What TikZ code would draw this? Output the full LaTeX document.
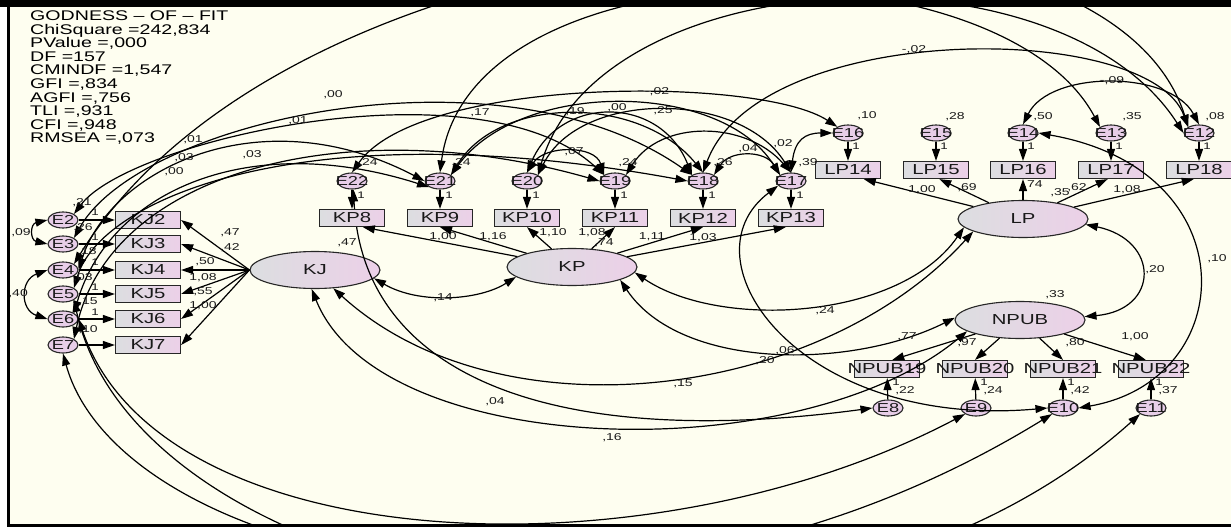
\documentclass[tikz,border=0pt]{standalone}
\usepackage{fontspec}
\newfontfamily\amos[FakeStretch=1.4]{Liberation Sans}
\usetikzlibrary{arrows.meta,shapes.geometric}
\definecolor{paper}{RGB}{254,254,240}
\definecolor{shadeL}{RGB}{220,222,224}
\definecolor{shadeR}{RGB}{236,208,232}
\definecolor{errfill}{RGB}{232,206,232}
\newcommand\olab[1]{\makebox[0pt]{#1}}
\begin{document}
\begin{tikzpicture}[x=1pt,y=-1pt,
  every node/.style={font=\amos, text=black!90},
  obs/.style={draw=black!85, line width=1.2pt, minimum width=65pt, minimum height=17pt,
    inner sep=0pt, left color=shadeL, right color=shadeR, font=\amos\fontsize{14.5}{14.5}\selectfont},
  lat/.style={ellipse, draw=black!85, line width=1.1pt, minimum width=130pt, minimum height=37pt,
    inner sep=0pt, left color=shadeL, right color=shadeR, font=\amos\fontsize{14.5}{14.5}\selectfont},
  err/.style={ellipse, draw=black!85, line width=1.1pt, fill=errfill, minimum width=30pt,
    minimum height=16pt, inner sep=0pt, font=\amos\fontsize{13}{13}\selectfont},
  reg/.style={-{Triangle[length=12pt,width=8pt]}, line width=1.2pt},
  cov/.style={{Triangle[length=12pt,width=8pt]}-{Triangle[length=12pt,width=8pt]}, line width=1.2pt},
  est/.style={font=\amos\fontsize{10}{10}\selectfont, inner sep=0pt},
  one/.style={font=\amos\fontsize{9.5}{9.5}\selectfont, inner sep=0pt},
]
\useasboundingbox (0,0) rectangle (1231,527);
\fill[white] (0,0) rectangle (1231,527);
\fill[paper] (10,7) rectangle (1231,523.5);

\begin{scope}
\clip (10,7) rectangle (1231,523.5);

% fit statistics
\node[anchor=north west, align=left, inner sep=0pt, text=black,
      font=\amos\fontsize{14}{13.6}\selectfont] (fit) at (30,10.5)
 {GODNESS – OF – FIT\\ChiSquare =242,834\\PValue =,000\\DF =157\\CMINDF =1,547\\GFI =,834\\AGFI =,756\\TLI =,931\\CFI =,948\\RMSEA =,073};

% latent variables
\node[lat] (KJ) at (315,270) {\olab{KJ}};
\node[lat] (KP) at (572,267) {\olab{KP}};
\node[lat] (LP) at (1023,219) {\olab{LP}};
\node[lat] (NPUB) at (1020,320) {\olab{NPUB}};

% error terms
\foreach \n/\y in {2/220,3/244,4/270,5/294,6/319,7/345}
  \node[err] (E\n) at (63,\y) {\olab{E\n}};
\foreach \n/\x in {22/352,21/440,20/527,19/615,18/703,17/791}
  \node[err] (E\n) at (\x,181) {\olab{E\n}};
\foreach \n/\x in {16/848,15/936,14/1023,13/1111,12/1199}
  \node[err] (E\n) at (\x,133) {\olab{E\n}};
\foreach \n/\x in {8/888,9/976,10/1063,11/1151}
  \node[err] (E\n) at (\x,408) {\olab{E\n}};

% covariance running behind the KP8 box
\draw[cov] (E22.-80) .. controls (362,380) and (560,450) .. (E8.west);

% observed indicators
\foreach \n/\y in {2/220,3/244,4/270,5/294,6/319,7/345}
  \node[obs] (KJ\n) at (148,\y) {\olab{KJ\n}};
\foreach \n/\x in {8/352,9/440,10/527,11/615,12/703,13/791}
  \node[obs] (KP\n) at (\x,218) {\olab{KP\n}};
\foreach \n/\x in {14/848,15/936,16/1023,17/1111,18/1199}
  \node[obs] (LP\n) at (\x,170) {\olab{LP\n}};
\foreach \n/\x in {19/887,20/975,21/1063,22/1151}
  \node[obs] (NPUB\n) at (\x,369) {\olab{NPUB\n}};

% loadings
\foreach \n in {2,...,7} \draw[reg] (KJ.west) -- (KJ\n.east);
\foreach \n in {2,...,7} \draw[reg] (E\n) -- (KJ\n);
\draw[reg] (KP) -- (KP8.-40);
\draw[reg] (KP) -- (KP9.south);
\draw[reg] (KP) -- (KP10.south);
\draw[reg] (KP) -- (KP11.south);
\draw[reg] (KP) -- (KP12.south);
\draw[reg] (KP) -- (KP13.-120);
\foreach \e/\b in {22/8,21/9,20/10,19/11,18/12,17/13} \draw[reg] (E\e) -- (KP\b);
\draw[reg] (LP) -- (LP14.-30);
\draw[reg] (LP) -- (LP15.-70);
\draw[reg] (LP) -- (LP16.south);
\draw[reg] (LP) -- (LP17.-110);
\draw[reg] (LP) -- (LP18.-120);
\foreach \e/\b in {16/14,15/15,14/16,13/17,12/18} \draw[reg] (E\e) -- (LP\b);
\draw[reg] (NPUB) -- (NPUB19.60);
\draw[reg] (NPUB) -- (NPUB20.north);
\draw[reg] (NPUB) -- (NPUB21.north);
\draw[reg] (NPUB) -- (NPUB22.120);
\foreach \e/\b in {8/19,9/20,10/21,11/22} \draw[reg] (E\e) -- (NPUB\b);

% latent covariances
\draw[cov] (KJ.-8) .. controls (420,305) and (480,300) .. (KP.190);
\draw[cov] (KP.-5) .. controls (720,330) and (900,320) .. (LP.188);
\draw[cov] (KP.-15) .. controls (680,370) and (850,370) .. (NPUB.178);
\draw[cov] (KJ.-45) .. controls (500,440) and (820,400) .. (LP.194);
\draw[cov] (KJ.-100) .. controls (380,460) and (800,470) .. (NPUB.192);
\draw[cov] (LP.-5) .. controls (1160,240) and (1160,310) .. (NPUB.3);

% error covariances, left block
\draw[cov] (E2.west) .. controls (30,224) and (30,240) .. (E3.west);
\draw[cov] (E4.west) .. controls (20,280) and (20,310) .. (E6.west);
\draw[cov] (E3.north east) .. controls (140,120) and (500,40) .. (E18.north west);
\draw[cov] (E2.north east) .. controls (130,140) and (480,60) .. (E19.north west);
\draw[cov] (E4.east) .. controls (110,170) and (260,95) .. (E21.west);
\draw[cov] (E6.north east) .. controls (110,190) and (250,130) .. (E21.south west);
\draw[cov] (E7.north east) .. controls (110,170) and (350,110) .. (E19.west);
\draw[cov] (E5.north east) .. controls (100,200) and (300,110) .. (E18.west);
\draw[cov] (E4.north east) .. controls (300,-100) and (1100,-150) .. (E12.150);
\draw[cov] (E6.east) .. controls (160,560) and (650,580) .. (E9.south west);
\draw[cov] (E7.south) .. controls (120,560) and (620,680) .. (E10.south west);
\draw[cov] (E5.south east) .. controls (140,600) and (800,720) .. (E11.south west);

% error covariances, upper block
\draw[cov] (E22.north) .. controls (420,76) and (760,76) .. (E16.150);
\draw[cov] (E18.north) .. controls (760,20) and (1150,20) .. (E12.north west);
\draw[cov] (E14.north) .. controls (1050,70) and (1170,70) .. (E12.north);
\draw[cov] (E21.north) .. controls (470,-60) and (1000,-60) .. (E13.north west);
\draw[cov] (E20.north east) .. controls (600,-40) and (1060,-60) .. (E12.west);
\draw[cov] (E21.north east) .. controls (500,95) and (640,95) .. (E18.north);
\draw[cov] (E20.north east) .. controls (580,90) and (740,90) .. (E17.north);
\draw[cov] (E20.north) .. controls (560,95) and (660,95) .. (E18.north west);
\draw[cov] (E21.north east) .. controls (520,80) and (720,80) .. (E17.north west);
\draw[cov] (E20.north) .. controls (545,145) and (595,145) .. (E19.north west);
\draw[cov] (E18.north east) .. controls (730,150) and (765,150) .. (E17.north west);
\draw[cov] (E19.north east) .. controls (660,120) and (745,120) .. (E17.north);
\draw[cov] (E17.north) .. controls (795,140) and (805,133) .. (E16.west);

% error covariances, right block
\draw[cov] (E14.east) .. controls (1250,170) and (1240,380) .. (E10.east);
\draw[cov] (E17.200) .. controls (680,260) and (800,430) .. (E10.west);

% estimates
\foreach \x/\y/\t [count=\i] in {
  333/95/{,00}, 298/121/{,01}, 193/140/{,01}, 184/158/{,03}, 252/155/{,03}, 174/172/{,00},
  480/113/{,17}, 575/112/{,19}, 617/108/{,00}, 663/111/{,25}, 657/92/{-,02}, 914/50/{-,02},
  1112/81/{-,09}, 574/152/{,07}, 748/149/{,04}, 783/144/{,02},
  368/163/{,24}, 461/163/{,24}, 628/163/{,24}, 723/163/{,26}, 808/163/{,39},
  867/116/{,10}, 955/117/{,28}, 1043/117/{,50}, 1132/117/{,35}, 1215/117/{,08},
  905/391/{,22}, 993/391/{,24}, 1080/391/{,42}, 1168/391/{,37},
  82/203/{,21}, 83/228/{,26}, 87/252/{,18}, 83/278/{,03}, 88/302/{,15}, 88/330/{,10},
  21/233/{,09},
  230/233/{,47}, 230/248/{,42}, 205/262/{,50}, 203/278/{1,08}, 203/292/{,55}, 203/306/{1,00},
  347/243/{,47}, 443/237/{1,00}, 493/237/{1,16}, 553/233/{1,10}, 592/233/{1,08}, 604/243/{,74},
  652/237/{1,11}, 703/238/{1,03},
  922/190/{1,00}, 967/188/{,69}, 1033/185/{,74}, 1060/193/{,35}, 1077/188/{,62}, 1127/190/{1,08},
  443/298/{,14}, 825/311/{,24}, 1155/270/{,20}, 1055/295/{,33}, 1217/259/{,10},
  683/384/{,15}, 495/402/{,04}, 612/438/{,16}, 765/361/{,20}, 785/351/{,06},
  907/337/{,77}, 967/343/{,97}, 1075/343/{,80}, 1135/337/{1,00}}
  \node[est] (est\i) at (\x,\y) {\t};
\node[est, anchor=east] (estleft) at (28,294) {,40};

% unit loadings of the error terms
\foreach \x/\y [count=\i] in {
  95/212, 95/237, 95/262, 95/287, 95/312,
  361/195, 449/195, 536/195, 624/195, 712/195, 800/195,
  856/146, 944/146, 1031/146, 1119/146, 1207/146,
  896/382, 984/382, 1071/382, 1159/382}
  \node[one] (one\i) at (\x,\y) {1};
\end{scope}

% frame
\fill[black] (0,0) rectangle (1231,7);
\fill[black] (7,0) rectangle (10,527);
\fill[black] (7,523.5) rectangle (1231,527);
\end{tikzpicture}
\end{document}
